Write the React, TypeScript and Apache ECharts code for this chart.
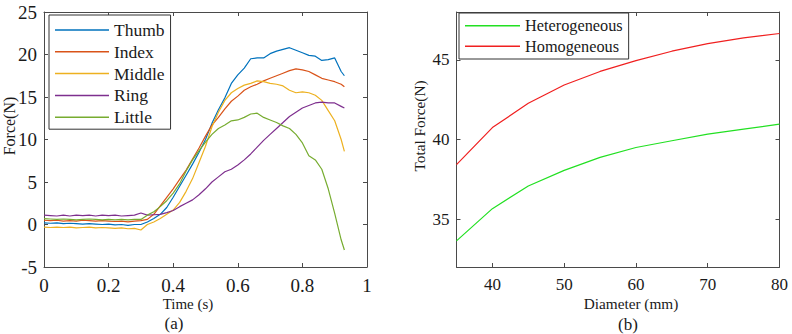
import React, { useEffect, useRef } from "react";
import * as echarts from "echarts";

// ---------- Data (a) ----------
const time = [0, 0.02, 0.04, 0.06, 0.08, 0.1, 0.12, 0.14, 0.16, 0.18, 0.2, 0.22, 0.24, 0.26, 0.28, 0.3, 0.32, 0.34, 0.36, 0.38, 0.4, 0.42, 0.44, 0.46, 0.48, 0.5, 0.52, 0.54, 0.56, 0.58, 0.6, 0.62, 0.64, 0.66, 0.68, 0.7, 0.72, 0.74, 0.76, 0.78, 0.8, 0.82, 0.84, 0.86, 0.88, 0.9, 0.92, 0.93];
const thumb = [0.2, 0.15, 0.2, 0.1, 0.15, 0.1, 0.05, 0.1, 0.05, 0.0, 0.05, -0.05, 0.0, -0.1, 0.0, 0.0, 0.3, 0.7, 1.2, 2.0, 3.2, 4.5, 5.8, 7.1, 8.5, 10.0, 11.9, 13.5, 14.9, 16.6, 17.6, 18.4, 19.5, 19.6, 19.6, 20.1, 20.4, 20.6, 20.8, 20.5, 20.2, 19.9, 19.8, 19.3, 19.4, 19.6, 18.0, 17.5];
const index = [0.5, 0.45, 0.5, 0.4, 0.45, 0.4, 0.5, 0.45, 0.4, 0.45, 0.4, 0.35, 0.4, 0.3, 0.4, 0.45, 0.6, 1.2, 2.2, 3.2, 4.2, 5.3, 6.4, 7.7, 9.0, 10.4, 11.7, 12.6, 13.6, 14.5, 15.1, 15.8, 16.2, 16.5, 16.9, 17.2, 17.5, 17.8, 18.1, 18.3, 18.2, 18.0, 17.6, 17.2, 17.0, 16.8, 16.5, 16.2];
const middle = [-0.3, -0.35, -0.3, -0.35, -0.3, -0.4, -0.35, -0.3, -0.4, -0.35, -0.4, -0.45, -0.4, -0.5, -0.45, -0.65, 0.0, 0.3, 0.7, 1.2, 1.7, 2.6, 3.9, 5.4, 7.3, 9.2, 11.5, 13.2, 14.6, 15.5, 16.0, 16.4, 16.6, 16.9, 16.8, 16.6, 16.5, 16.3, 15.8, 15.5, 15.6, 15.5, 15.2, 14.6, 13.4, 12.2, 10.0, 8.6];
const ring = [1.1, 1.05, 1.0, 1.1, 1.0, 1.1, 1.05, 1.1, 1.0, 1.1, 1.05, 1.1, 1.0, 1.05, 1.1, 1.35, 1.1, 1.15, 1.2, 1.4, 1.65, 2.1, 2.5, 2.9, 3.5, 4.2, 5.0, 5.6, 6.2, 6.5, 7.0, 7.6, 8.3, 9.1, 9.9, 10.6, 11.3, 12.0, 12.7, 13.2, 13.7, 14.0, 14.3, 14.4, 14.3, 14.3, 13.9, 13.7];
const little = [0.7, 0.65, 0.6, 0.65, 0.6, 0.55, 0.6, 0.65, 0.6, 0.55, 0.6, 0.55, 0.6, 0.55, 0.6, 0.6, 1.1, 1.5, 2.1, 2.8, 3.7, 4.8, 6.3, 7.6, 8.7, 9.7, 10.6, 11.3, 11.7, 12.2, 12.3, 12.6, 13.0, 13.1, 12.6, 12.3, 12.0, 11.6, 11.3, 10.6, 9.6, 8.1, 7.6, 6.5, 4.2, 1.3, -1.8, -3.0];
const fingerNames = ["Thumb", "Index", "Middle", "Ring", "Little"];
const fingerColors = ["#0072BD", "#D95319", "#EDB120", "#7E2F8E", "#77AC30"];
const timeTicks = [0, 0.2, 0.4, 0.6, 0.8, 1];
const forceTicks = [-5, 0, 5, 10, 15, 20, 25];

// ---------- Data (b) ----------
const diameter = [35, 40, 45, 50, 55, 60, 65, 70, 75, 80];
const heterogeneous = [33.64, 35.66, 37.08, 38.06, 38.88, 39.5, 39.92, 40.34, 40.65, 40.96];
const homogeneous = [38.42, 40.75, 42.27, 43.42, 44.27, 44.95, 45.54, 46.02, 46.38, 46.65];
const diameterTicks = [40, 50, 60, 70, 80];
const totalForceTicks = [35, 40, 45];

const FONT = "Liberation Serif";
const AXIS_COLOR = "#4a4a4a";
const TEXT_COLOR = "#1a1a1a";

function mkAxis(opts: any) {
  const { gridIndex, position, min, max, ticks, labels, fontSize, type } = opts;
  return {
    type: "value",
    gridIndex,
    position,
    min,
    max,
    splitLine: { show: false },
    axisLine: { show: true, onZero: false, lineStyle: { color: AXIS_COLOR, width: 1 } },
    axisTick: { show: true, inside: true, length: 4, customValues: ticks, lineStyle: { color: AXIS_COLOR, width: 1 } },
    axisLabel: {
      show: labels,
      customValues: ticks,
      fontFamily: FONT,
      fontSize,
      color: TEXT_COLOR,
      margin: type === "x" ? 9 : 7,
    },
  };
}

export default function App() {
  const ref = useRef<HTMLDivElement>(null);
  useEffect(() => {
    if (!ref.current) return;
    const chart = echarts.init(ref.current, undefined, { renderer: "svg" });
    const fingerData = [thumb, index, middle, ring, little];
    const leftSeries = fingerNames.map((name, i) => ({
      name,
      type: "line",
      xAxisIndex: 0,
      yAxisIndex: 0,
      symbol: "none",
      data: time.map((t, k) => [t, fingerData[i][k]]),
      lineStyle: { color: fingerColors[i], width: 1.2 },
      itemStyle: { color: fingerColors[i] },
    }));
    const rightSeries = [
      { name: "Heterogeneous", data: heterogeneous, color: "#22e022" },
      { name: "Homogeneous", data: homogeneous, color: "#f02020" },
    ].map((s) => ({
      name: s.name,
      type: "line",
      xAxisIndex: 2,
      yAxisIndex: 2,
      symbol: "none",
      data: diameter.map((d, k) => [d, s.data[k]]),
      lineStyle: { color: s.color, width: 1.2 },
      itemStyle: { color: s.color },
    }));

    const option: any = {
      animation: false,
      backgroundColor: "#ffffff",
      textStyle: { fontFamily: FONT },
      grid: [
        { left: 44, top: 12, width: 323, height: 255, containLabel: false },
        { left: 456.5, top: 12, width: 323, height: 255, containLabel: false },
      ],
      xAxis: [
        mkAxis({ gridIndex: 0, position: "bottom", min: 0, max: 1, ticks: timeTicks, labels: true, fontSize: 19, type: "x" }),
        mkAxis({ gridIndex: 0, position: "top", min: 0, max: 1, ticks: timeTicks, labels: false, fontSize: 19, type: "x" }),
        mkAxis({ gridIndex: 1, position: "bottom", min: 35, max: 80, ticks: diameterTicks, labels: true, fontSize: 17, type: "x" }),
        mkAxis({ gridIndex: 1, position: "top", min: 35, max: 80, ticks: diameterTicks, labels: false, fontSize: 17, type: "x" }),
      ],
      yAxis: [
        mkAxis({ gridIndex: 0, position: "left", min: -5, max: 25, ticks: forceTicks, labels: true, fontSize: 19, type: "y" }),
        mkAxis({ gridIndex: 0, position: "right", min: -5, max: 25, ticks: forceTicks, labels: false, fontSize: 19, type: "y" }),
        mkAxis({ gridIndex: 1, position: "left", min: 32, max: 48, ticks: totalForceTicks, labels: true, fontSize: 17, type: "y" }),
        mkAxis({ gridIndex: 1, position: "right", min: 32, max: 48, ticks: totalForceTicks, labels: false, fontSize: 17, type: "y" }),
      ],
      legend: [
        {
          data: fingerNames,
          orient: "vertical",
          left: 49,
          top: 15,
          padding: [6, 6, 3, 6],
          icon: "rect",
          itemWidth: 54,
          itemHeight: 1.5,
          itemGap: 3.8,
          borderColor: "#333",
          borderWidth: 1,
          backgroundColor: "#fff",
          textStyle: { fontFamily: FONT, fontSize: 17.5, lineHeight: 17.5, color: TEXT_COLOR },
        },
        {
          data: ["Heterogeneous", "Homogeneous"],
          orient: "vertical",
          left: 459,
          top: 13,
          padding: [4.5, 6, 4.5, 6],
          icon: "rect",
          itemWidth: 55,
          itemHeight: 1.5,
          itemGap: 4.4,
          borderColor: "#333",
          borderWidth: 1,
          backgroundColor: "#fff",
          textStyle: { fontFamily: FONT, fontSize: 16.3, lineHeight: 16.3, color: TEXT_COLOR },
        },
      ],
      graphic: [
        { type: "text", x: 188, y: 304, style: { text: "Time (s)", fontFamily: FONT, fontSize: 15, fill: TEXT_COLOR, align: "center", verticalAlign: "middle" } },
        { type: "text", x: 174, y: 323, style: { text: "(a)", fontFamily: FONT, fontSize: 17, fill: TEXT_COLOR, align: "center", verticalAlign: "middle" } },
        { type: "text", x: 9.5, y: 126, rotation: Math.PI / 2, style: { text: "Force(N)", fontFamily: FONT, fontSize: 16, fill: TEXT_COLOR, align: "center", verticalAlign: "middle" } },
        { type: "text", x: 631, y: 303, style: { text: "Diameter (mm)", fontFamily: FONT, fontSize: 15.3, fill: TEXT_COLOR, align: "center", verticalAlign: "middle" } },
        { type: "text", x: 628, y: 324, style: { text: "(b)", fontFamily: FONT, fontSize: 17, fill: TEXT_COLOR, align: "center", verticalAlign: "middle" } },
        { type: "text", x: 419, y: 126, rotation: Math.PI / 2, style: { text: "Total Force(N)", fontFamily: FONT, fontSize: 15.3, fill: TEXT_COLOR, align: "center", verticalAlign: "middle" } },
      ],
      series: [...leftSeries, ...rightSeries],
    };
    chart.setOption(option);
    return () => chart.dispose();
  }, []);
  return <div ref={ref} style={{ position: "fixed", left: 0, top: 0, width: 792, height: 334, background: "#fff" }} />;
}
